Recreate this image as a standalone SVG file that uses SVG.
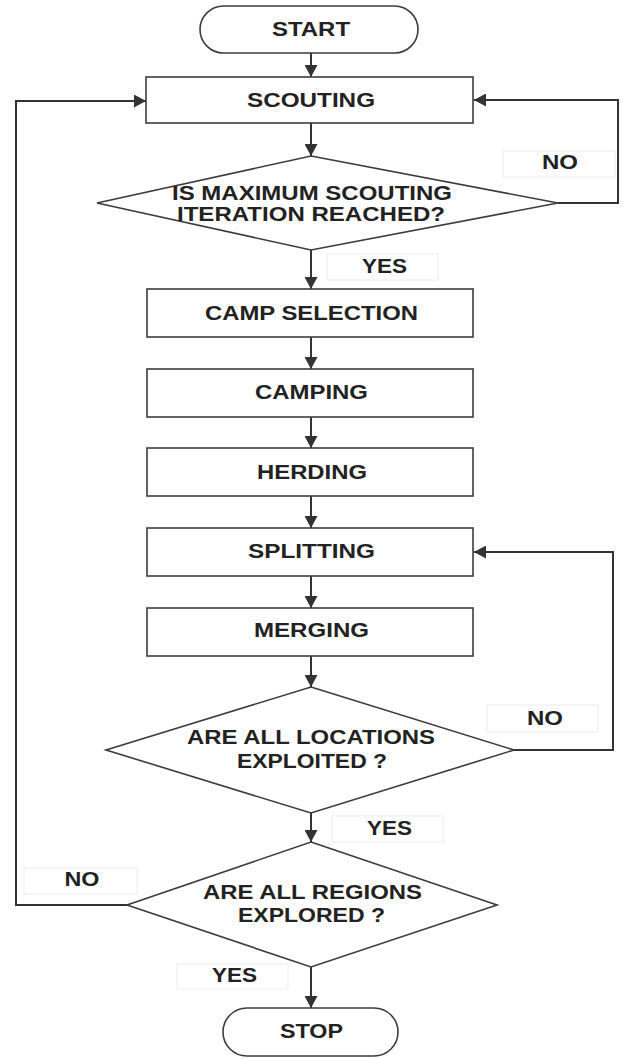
<svg xmlns="http://www.w3.org/2000/svg" width="629" height="1059" viewBox="0 0 629 1059">
<style>
.shape{fill:#fff;stroke:#3c3c3c;stroke-width:1.6}
.lbl{fill:#fff;stroke:#ececec;stroke-width:1}
.con{fill:none;stroke:#333;stroke-width:2}
text{font-family:"Liberation Sans",Arial,sans-serif;font-weight:bold;font-size:19.5px;fill:#222;text-anchor:middle}
</style>
<defs>
<marker id="arr" markerUnits="userSpaceOnUse" markerWidth="13" markerHeight="13" refX="12" refY="6.5" orient="auto" viewBox="0 0 13 13">
<path d="M0,0 L12,6.5 L0,13 z" fill="#333"/>
</marker>
</defs>
<rect width="629" height="1059" fill="#fff"/>
<g id="connectors">
<line class="con" x1="311" y1="53" x2="311" y2="77" marker-end="url(#arr)"/>
<line class="con" x1="311" y1="123" x2="311" y2="156" marker-end="url(#arr)"/>
<line class="con" x1="311" y1="250" x2="311" y2="289" marker-end="url(#arr)"/>
<line class="con" x1="311" y1="337" x2="311" y2="369" marker-end="url(#arr)"/>
<line class="con" x1="311" y1="417" x2="311" y2="448" marker-end="url(#arr)"/>
<line class="con" x1="311" y1="496" x2="311" y2="528" marker-end="url(#arr)"/>
<line class="con" x1="311" y1="576" x2="311" y2="608" marker-end="url(#arr)"/>
<line class="con" x1="311" y1="656" x2="311" y2="687" marker-end="url(#arr)"/>
<line class="con" x1="311" y1="813" x2="311" y2="842" marker-end="url(#arr)"/>
<line class="con" x1="311" y1="967" x2="311" y2="1008" marker-end="url(#arr)"/>
<polyline class="con" points="558,203 618,203 618,100 474,100" marker-end="url(#arr)"/>
<polyline class="con" points="514,750 613,750 613,552 474,552" marker-end="url(#arr)"/>
<polyline class="con" points="127,905 16,905 16,101 146,101" marker-end="url(#arr)"/>
</g>
<g id="lbl-no1"><rect class="lbl" x="503" y="151" width="112" height="26"/><text x="560" y="169" textLength="36" lengthAdjust="spacingAndGlyphs">NO</text></g>
<g id="lbl-yes1"><rect class="lbl" x="327" y="254" width="111" height="26"/><text x="384.5" y="273" textLength="45" lengthAdjust="spacingAndGlyphs">YES</text></g>
<g id="lbl-no2"><rect class="lbl" x="487" y="705" width="111" height="27"/><text x="545" y="725" textLength="36" lengthAdjust="spacingAndGlyphs">NO</text></g>
<g id="lbl-yes2"><rect class="lbl" x="332" y="816" width="111" height="26"/><text x="389.5" y="835" textLength="45" lengthAdjust="spacingAndGlyphs">YES</text></g>
<g id="lbl-no3"><rect class="lbl" x="24" y="868" width="113" height="26"/><text x="82" y="886" textLength="35" lengthAdjust="spacingAndGlyphs">NO</text></g>
<g id="lbl-yes3"><rect class="lbl" x="177" y="964" width="111" height="25"/><text x="234.5" y="982" textLength="45" lengthAdjust="spacingAndGlyphs">YES</text></g>
<g id="start"><rect class="shape" x="200" y="6" width="218" height="47" rx="23.5"/><text x="311" y="36" textLength="78" lengthAdjust="spacingAndGlyphs">START</text></g>
<g id="scouting"><rect class="shape" x="146" y="77" width="327" height="46"/><text x="311" y="107" textLength="128" lengthAdjust="spacingAndGlyphs">SCOUTING</text></g>
<g id="decision1"><polygon class="shape" points="311,156 558,203 311,250 97,203"/><text x="312" y="200" textLength="280" lengthAdjust="spacingAndGlyphs">IS MAXIMUM SCOUTING</text><text x="311" y="221" textLength="268" lengthAdjust="spacingAndGlyphs">ITERATION REACHED?</text></g>
<g id="camp-selection"><rect class="shape" x="147" y="289" width="326" height="48"/><text x="311.5" y="320" textLength="213" lengthAdjust="spacingAndGlyphs">CAMP SELECTION</text></g>
<g id="camping"><rect class="shape" x="147" y="369" width="326" height="48"/><text x="311.5" y="399" textLength="113" lengthAdjust="spacingAndGlyphs">CAMPING</text></g>
<g id="herding"><rect class="shape" x="147" y="448" width="326" height="48"/><text x="312" y="479" textLength="110" lengthAdjust="spacingAndGlyphs">HERDING</text></g>
<g id="splitting"><rect class="shape" x="147" y="528" width="326" height="48"/><text x="311.5" y="558" textLength="127" lengthAdjust="spacingAndGlyphs">SPLITTING</text></g>
<g id="merging"><rect class="shape" x="147" y="608" width="326" height="48"/><text x="311.5" y="637" textLength="115" lengthAdjust="spacingAndGlyphs">MERGING</text></g>
<g id="decision2"><polygon class="shape" points="311,687 514,750 311,813 106,750"/><text x="311" y="744" textLength="248" lengthAdjust="spacingAndGlyphs">ARE ALL LOCATIONS</text><text x="312" y="768" textLength="150" lengthAdjust="spacingAndGlyphs">EXPLOITED ?</text></g>
<g id="decision3"><polygon class="shape" points="311,842 497,905 311,967 127,905"/><text x="312.5" y="899" textLength="219" lengthAdjust="spacingAndGlyphs">ARE ALL REGIONS</text><text x="311.5" y="922" textLength="147" lengthAdjust="spacingAndGlyphs">EXPLORED ?</text></g>
<g id="stop"><rect class="shape" x="223" y="1008" width="175" height="48" rx="24"/><text x="311.5" y="1038" textLength="63" lengthAdjust="spacingAndGlyphs">STOP</text></g>
</svg>
